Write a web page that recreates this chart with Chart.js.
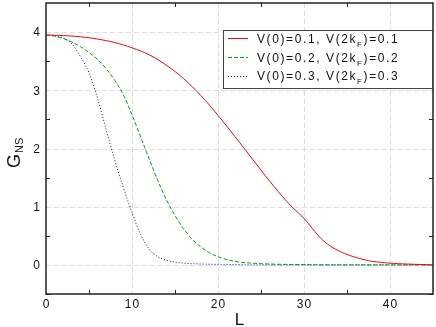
<!DOCTYPE html>
<html>
<head>
<meta charset="utf-8">
<script src="https://cdn.jsdelivr.net/npm/chart.js@4"></script>
<style>
  html, body { margin: 0; padding: 0; background: #fff; }
  #wrap { width: 436px; height: 327px; }
</style>
</head>
<body>
<div id="wrap"><canvas id="gns" width="436" height="327"></canvas></div>
<script>
// values
var L_red = [0, 2, 4, 6, 8, 10, 12, 14, 16, 18, 20, 22, 24, 26, 28, 29, 30, 31, 32, 33, 34, 35, 36, 37, 38, 40, 42, 45];
var G_red = [3.95, 3.94, 3.92, 3.88, 3.82, 3.73, 3.61, 3.43, 3.20, 2.91, 2.57, 2.20, 1.82, 1.44, 1.09, 0.94, 0.80, 0.62, 0.45, 0.33, 0.245, 0.18, 0.13, 0.09, 0.06, 0.03, 0.015, 0.0];

var L_green = [0, 1, 2, 3, 4, 5, 6, 7, 8, 9, 10, 11, 12, 13, 14, 15, 16, 17, 18, 19, 20, 22, 24, 26, 30, 35, 45];
var G_green = [3.95, 3.93, 3.89, 3.83, 3.75, 3.65, 3.53, 3.37, 3.17, 2.92, 2.58, 2.20, 1.82, 1.45, 1.12, 0.85, 0.62, 0.44, 0.31, 0.21, 0.14, 0.06, 0.03, 0.015, 0.005, 0, 0];

var L_blue = [0, 1, 2, 3, 4, 5, 6, 7, 8, 9, 10, 11, 12, 13, 14, 15, 16, 18, 20, 25, 45];
var G_blue = [3.95, 3.94, 3.90, 3.80, 3.58, 3.30, 2.86, 2.32, 1.80, 1.33, 0.90, 0.52, 0.27, 0.14, 0.08, 0.05, 0.03, 0.015, 0.01, 0, 0];

var xTicks = [0, 10, 20, 30, 40];
var yTicks = [0, 1, 2, 3, 4];
var xMinor = [5, 15, 25, 35];
var yMinor = [-0.5, 0.5, 1.5, 2.5, 3.5];

var legendLabels = [
  ['V(0)=0.1, V(2k', 'F', ')=0.1'],
  ['V(0)=0.2, V(2k', 'F', ')=0.2'],
  ['V(0)=0.3, V(2k', 'F', ')=0.3']
];

function pts(xs, ys) {
  return xs.map(function (x, i) { return { x: x, y: ys[i] }; });
}

var FONT = "'Liberation Sans', Arial, sans-serif";

var framePlugin = {
  id: 'frame',
  beforeDatasetsDraw: function (chart) {
    var ctx = chart.ctx, a = chart.chartArea;
    var xs = chart.scales.x, ys = chart.scales.y;
    ctx.save();
    ctx.strokeStyle = '#dedede';
    ctx.lineWidth = 1;
    ctx.setLineDash([5, 3]);
    xTicks.forEach(function (v) {
      if (v === 0) return;
      var px = Math.round(xs.getPixelForValue(v)) + 0.5;
      ctx.beginPath(); ctx.moveTo(px, a.top); ctx.lineTo(px, a.bottom); ctx.stroke();
    });
    yTicks.forEach(function (v) {
      var py = Math.round(ys.getPixelForValue(v)) + 0.5;
      ctx.beginPath(); ctx.moveTo(a.left, py); ctx.lineTo(a.right, py); ctx.stroke();
    });
    ctx.restore();
  },
  afterDraw: function (chart) {
    var ctx = chart.ctx, a = chart.chartArea;
    var xs = chart.scales.x, ys = chart.scales.y;
    ctx.save();
    // frame
    ctx.strokeStyle = '#222';
    ctx.lineWidth = 1.5;
    ctx.strokeRect(a.left, a.top, a.right - a.left, a.bottom - a.top);
    // inward minor ticks
    ctx.lineWidth = 1;
    xMinor.forEach(function (v) {
      var px = Math.round(xs.getPixelForValue(v)) + 0.5;
      ctx.beginPath(); ctx.moveTo(px, a.bottom); ctx.lineTo(px, a.bottom - 4); ctx.stroke();
      ctx.beginPath(); ctx.moveTo(px, a.top); ctx.lineTo(px, a.top + 4); ctx.stroke();
    });
    yMinor.forEach(function (v) {
      var py = Math.round(ys.getPixelForValue(v)) + 0.5;
      ctx.beginPath(); ctx.moveTo(a.left, py); ctx.lineTo(a.left + 4, py); ctx.stroke();
      ctx.beginPath(); ctx.moveTo(a.right, py); ctx.lineTo(a.right - 4, py); ctx.stroke();
    });

    // tick labels
    ctx.fillStyle = '#111';
    ctx.font = '12px ' + FONT;
    ctx.letterSpacing = '1px';
    ctx.textBaseline = 'middle';
    ctx.textAlign = 'center';
    xTicks.forEach(function (v) {
      ctx.fillText(String(v), xs.getPixelForValue(v) + 0.5, a.bottom + 11);
    });
    ctx.textAlign = 'right';
    yTicks.forEach(function (v) {
      ctx.fillText(String(v), a.left - 5, ys.getPixelForValue(v) + 1);
    });

    // axis titles
    ctx.letterSpacing = '0px';
    ctx.textAlign = 'center';
    ctx.textBaseline = 'alphabetic';
    ctx.font = '17px ' + FONT;
    ctx.fillText('L', (a.left + a.right) / 2, 325);

    ctx.save();
    ctx.translate(20, 168);
    ctx.rotate(-Math.PI / 2);
    ctx.textAlign = 'left';
    ctx.font = '18px ' + FONT;
    ctx.fillText('G', 0, 0);
    var gw = ctx.measureText('G').width;
    ctx.font = '11px ' + FONT;
    ctx.fillText('NS', gw + 1, 3);
    ctx.restore();

    // legend box
    var bx = 223, by = 30, bw = 209, bh = 58;
    ctx.fillStyle = '#fff';
    ctx.fillRect(bx, by, bw, bh);
    ctx.strokeStyle = '#444';
    ctx.lineWidth = 1;
    ctx.strokeRect(bx + 0.5, by + 0.5, bw, bh);

    var rowsY = [38.5, 57.5, 76.5];
    var base = [42.5, 61.5, 80];
    chart.data.datasets.forEach(function (ds, i) {
      ctx.save();
      ctx.strokeStyle = ds.borderColor;
      ctx.lineWidth = 1;
      ctx.setLineDash(ds.borderDash || []);
      ctx.beginPath(); ctx.moveTo(228, rowsY[i]); ctx.lineTo(248, rowsY[i]); ctx.stroke();
      ctx.restore();

      var parts = legendLabels[i];
      var x = 257;
      ctx.fillStyle = '#111';
      ctx.textAlign = 'left';
      ctx.letterSpacing = '1.6px';
      ctx.font = '12px ' + FONT;
      ctx.fillText(parts[0], x, base[i]);
      x += ctx.measureText(parts[0]).width;
      ctx.font = '8px ' + FONT;
      ctx.fillText(parts[1], x, base[i] + 4);
      x += ctx.measureText(parts[1]).width;
      ctx.font = '12px ' + FONT;
      ctx.fillText(parts[2], x, base[i]);
    });
    ctx.restore();
  }
};

var ctx = document.getElementById('gns').getContext('2d');
var chart = new Chart(ctx, {
  type: 'line',
  data: {
    datasets: [{
      label: 'V(0)=0.1, V(2kF)=0.1',
      data: pts(L_red, G_red),
      borderColor: '#ff0000',
      borderWidth: 1,
      pointRadius: 0,
      tension: 0.4
    }, {
      label: 'V(0)=0.2, V(2kF)=0.2',
      data: pts(L_green, G_green),
      borderColor: '#00a800',
      borderWidth: 1,
      borderDash: [4, 2],
      pointRadius: 0,
      cubicInterpolationMode: 'monotone'
    }, {
      label: 'V(0)=0.3, V(2kF)=0.3',
      data: pts(L_blue, G_blue),
      borderColor: '#0000ff',
      borderWidth: 1,
      borderDash: [1, 2],
      pointRadius: 0,
      cubicInterpolationMode: 'monotone'
    }]
  },
  options: {
    responsive: false,
    animation: false,
    layout: { padding: { top: 3, right: 3, left: 0, bottom: 0 } },
    plugins: { legend: { display: false }, tooltip: { enabled: false } },
    scales: {
      x: {
        type: 'linear',
        min: 0,
        max: 45,
        grid: { display: false },
        border: { display: false },
        ticks: { display: false },
        afterFit: function (s) { s.height = 33; }
      },
      y: {
        min: -0.5,
        max: 4.5,
        grid: { display: false },
        border: { display: false },
        ticks: { display: false },
        afterFit: function (s) { s.width = 46; }
      }
    }
  },
  plugins: [framePlugin]
});
</script>
</body>
</html>
